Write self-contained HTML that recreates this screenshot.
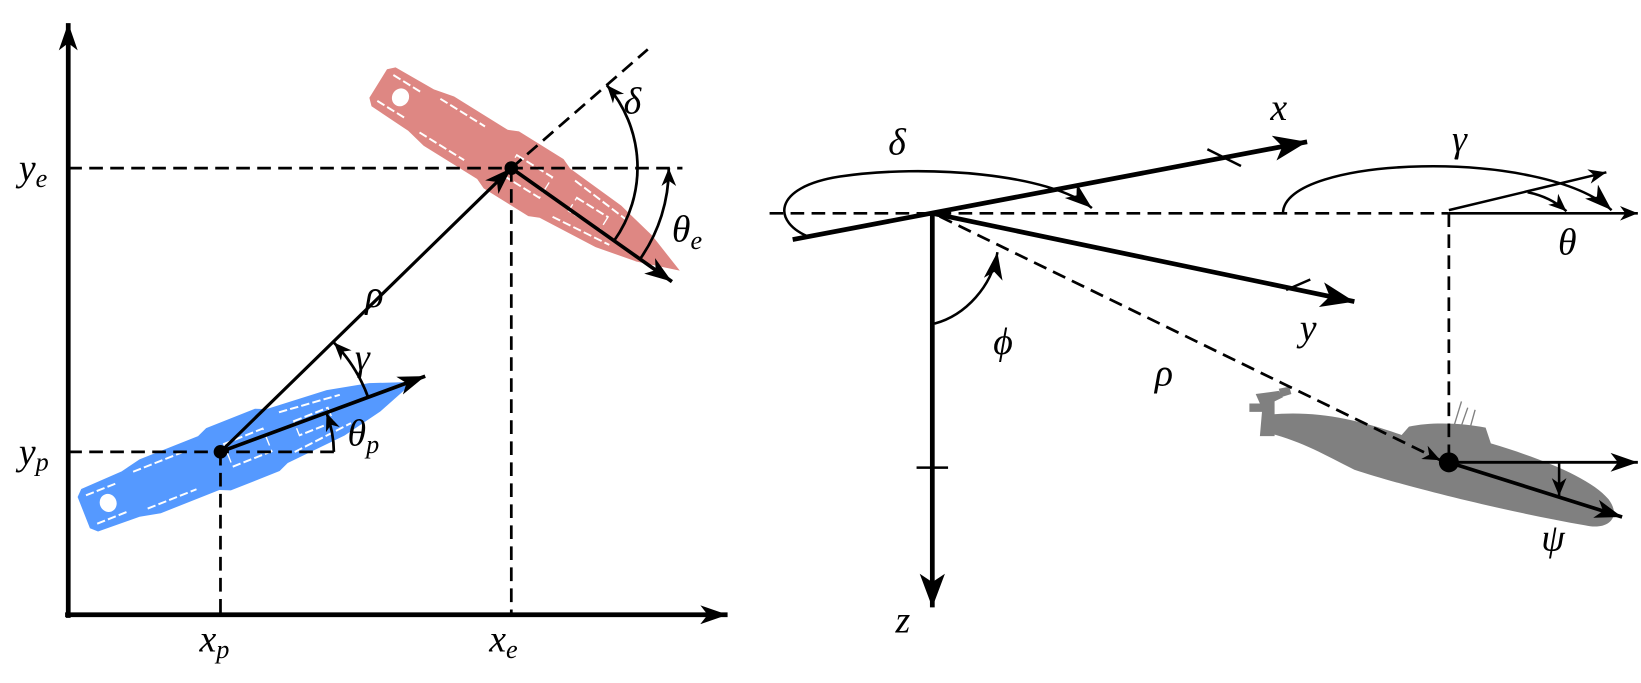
<!DOCTYPE html>
<html><head><meta charset="utf-8"><style>
html,body{margin:0;padding:0;background:#fff;}
svg{display:block;}
text{font-family:"Liberation Serif",serif;font-style:italic;fill:#000;}
</style></head><body>
<svg width="1641" height="683" viewBox="0 0 1563 650" preserveAspectRatio="none" xmlns="http://www.w3.org/2000/svg">
<defs>
<marker id="big" markerUnits="userSpaceOnUse" markerWidth="34" markerHeight="28" refX="32" refY="14" orient="auto">
<path d="M0,2 L32,14 L0,26 L8,14 Z" fill="#000"/></marker>
<marker id="med" markerUnits="userSpaceOnUse" markerWidth="28" markerHeight="22" refX="26" refY="11" orient="auto">
<path d="M0,2 L26,11 L0,20 L7,11 Z" fill="#000"/></marker>
<marker id="sm" markerUnits="userSpaceOnUse" markerWidth="18" markerHeight="16" refX="17" refY="8" orient="auto">
<path d="M0,1 L17,8 L0,15 L5,8 Z" fill="#000"/></marker>
<g id="ship">
<path d="M-168,-11 L-162,-15 L-120,-16 L-100,-19 L-40,-19 L-30,-22 L20,-22 L30,-19 L90,-16 L130,-10 L170,0 L130,10 L90,16 L30,19 L20,22 L-30,22 L-40,19 L-100,19 L-120,16 L-162,15 L-168,11 Z"/>
<ellipse cx="-143" cy="0" rx="8" ry="6" fill="#fff"/>
<path d="M-160,-10 L-130,-10 M-160,10 L-130,10 M-110,-13 L-60,-13 M-110,13 L-60,13 M40,-14 L100,-10 M40,14 L100,10 M-20,-8 L20,-8 L20,8 L-20,8 Z M50,-5 L85,-5 L85,5 L50,5 Z" stroke="#fff" stroke-width="1.3" fill="none" stroke-dasharray="8,3"/>
</g>
</defs>

<!-- LEFT PANEL -->
<g transform="translate(236,426) rotate(-21.6) scale(1,1.45)" fill="#5599ff"><use href="#ship"/></g>
<g transform="translate(503,168) rotate(31.8) scale(1,1.45)" fill="#de8783"><use href="#ship"/></g>

<line x1="65" y1="588" x2="65" y2="22" stroke="#000" stroke-width="4.5" marker-end="url(#med)"/>
<line x1="62" y1="585" x2="693" y2="585" stroke="#000" stroke-width="4.5" marker-end="url(#med)"/>
<g stroke="#000" stroke-width="2.6" stroke-dasharray="13,7" fill="none">
<line x1="65" y1="160" x2="650" y2="160"/>
<line x1="487" y1="160" x2="487" y2="585"/>
<line x1="65" y1="430" x2="325" y2="430"/>
<line x1="210" y1="430" x2="210" y2="585"/>
<line x1="487" y1="160" x2="617" y2="47"/>
</g>
<line x1="210" y1="430" x2="487" y2="160" stroke="#000" stroke-width="3" marker-end="url(#med)"/>
<line x1="210" y1="430" x2="405" y2="358" stroke="#000" stroke-width="3.5" marker-end="url(#med)"/>
<line x1="487" y1="160" x2="640" y2="268" stroke="#000" stroke-width="3.5" marker-end="url(#med)"/>
<g stroke="#000" stroke-width="2.6" fill="none">
<path d="M351,379 A150,150 0 0 0 318,326" marker-end="url(#sm)"/>
<path d="M318,430 A108,108 0 0 0 311,393" marker-end="url(#sm)"/>
<path d="M585,229 A120,120 0 0 0 578,81" marker-end="url(#sm)"/>
<path d="M610,246 A150,150 0 0 0 637,160" marker-end="url(#sm)"/>
</g>
<circle cx="210" cy="430" r="6.5"/>
<circle cx="487" cy="160" r="6.5"/>

<text x="18" y="172" font-size="36">y<tspan font-size="25" dy="6">e</tspan></text>
<text x="18" y="442" font-size="36">y<tspan font-size="25" dy="6">p</tspan></text>
<text x="190" y="620" font-size="36">x<tspan font-size="25" dy="6">p</tspan></text>
<text x="466" y="620" font-size="36">x<tspan font-size="25" dy="6">e</tspan></text>
<text x="348" y="292" font-size="36">ρ</text>
<text x="338" y="352" font-size="36">γ</text>
<text x="331" y="424" font-size="36">θ<tspan font-size="25" dy="7">p</tspan></text>
<text x="594" y="108" font-size="36">δ</text>
<text x="640" y="230" font-size="36">θ<tspan font-size="25" dy="7">e</tspan></text>

<!-- RIGHT PANEL -->
<g fill="#808080">
<path d="M1205,395 C1250,390 1290,398 1335,414 L1342,406 C1365,401 1395,403 1415,407 L1420,422 C1470,437 1515,455 1532,475 C1545,492 1532,505 1510,500 C1430,486 1335,462 1290,447 C1262,433 1240,420 1208,412 Z"/>
<path d="M1196,375 L1218,372 L1222,378 L1214,382 L1214,415 L1200,415 L1202,392 L1190,392 L1190,384 L1200,384 Z"/>
<path d="M1218,370 L1228,368 L1230,375 L1220,378 Z"/>
</g>
<g stroke="#808080" stroke-width="1.3"><line x1="1385" y1="405" x2="1392" y2="382"/><line x1="1392" y1="405" x2="1398" y2="388"/><line x1="1400" y1="408" x2="1405" y2="390"/></g>

<g stroke="#000" stroke-width="2.6" stroke-dasharray="13,7" fill="none">
<line x1="733" y1="203" x2="1380" y2="203"/>
<line x1="1380" y1="203" x2="1380" y2="440"/>
<line x1="895" y1="206" x2="1372" y2="438" marker-end="url(#sm)"/>
</g>
<line x1="1380" y1="203" x2="1560" y2="203" stroke="#000" stroke-width="2.6" marker-end="url(#sm)"/>
<line x1="1380" y1="200" x2="1530" y2="164" stroke="#000" stroke-width="2.4" marker-end="url(#sm)"/>
<line x1="755" y1="228" x2="1245" y2="135" stroke="#000" stroke-width="4.5" marker-end="url(#big)"/>
<line x1="888" y1="203" x2="1290" y2="287" stroke="#000" stroke-width="4.5" marker-end="url(#big)"/>
<line x1="888" y1="203" x2="888" y2="578" stroke="#000" stroke-width="4.5" marker-end="url(#big)"/>
<g stroke="#000" stroke-width="2.4" fill="none">
<line x1="1150" y1="142" x2="1182" y2="158"/>
<line x1="1225" y1="276" x2="1248" y2="266"/>
<line x1="873" y1="445" x2="903" y2="445"/>
<path d="M772,226 C735,212 735,178 800,168 C880,156 1000,165 1040,198" marker-end="url(#med)"/>
<path d="M890,308 C920,300 945,272 950,240" marker-end="url(#med)"/>
<path d="M1222,203 C1222,148 1470,140 1535,200" marker-end="url(#med)"/>
<path d="M1455,183 C1470,186 1482,192 1492,201" marker-end="url(#sm)"/>
<path d="M1485,441 L1485,472" marker-end="url(#sm)"/>
</g>
<line x1="1380" y1="440" x2="1560" y2="440" stroke="#000" stroke-width="2.8" marker-end="url(#med)"/>
<line x1="1380" y1="440" x2="1545" y2="492" stroke="#000" stroke-width="3.5" marker-end="url(#med)"/>
<circle cx="1380" cy="440" r="9.5"/>

<text x="846" y="147" font-size="36">δ</text>
<text x="1210" y="114" font-size="36">x</text>
<text x="1238" y="324" font-size="36">y</text>
<text x="853" y="602" font-size="36">z</text>
<text x="946" y="337" font-size="36">ϕ</text>
<text x="1100" y="367" font-size="36">ρ</text>
<text x="1383" y="144" font-size="36">γ</text>
<text x="1484" y="242" font-size="36">θ</text>
<text x="1468" y="524" font-size="36">ψ</text>
</svg>
</body></html>
